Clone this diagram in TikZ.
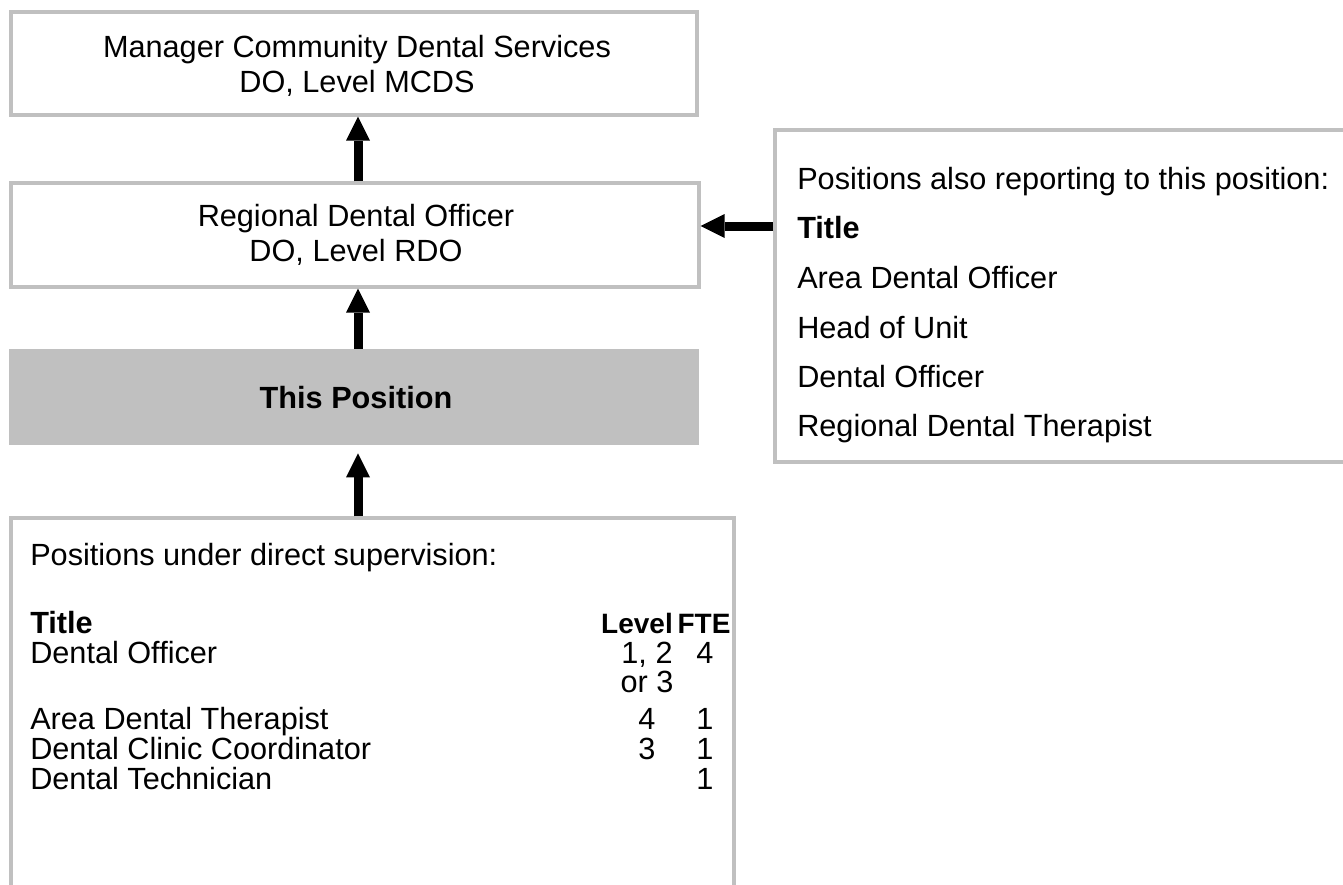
\documentclass[tikz,border=0pt]{standalone}
\usepackage{fontspec}
\setmainfont{Liberation Sans}
\usetikzlibrary{arrows.meta,fit}
\definecolor{boxgray}{RGB}{192,192,192}
\begin{document}
\begin{tikzpicture}[x=0.75pt,y=-0.75pt,
  box/.style={draw=boxgray, line width=2.6pt, inner sep=0pt},
  lbl/.style={inner sep=0pt, anchor=base, font=\fontsize{23}{27}\selectfont},
  lblb/.style={lbl, font=\fontsize{23}{27}\selectfont\bfseries},
  colhead/.style={lbl, font=\fontsize{21}{25}\selectfont\bfseries},
  lbll/.style={lbl, anchor=base west},
  lbllb/.style={lblb, anchor=base west},
  link/.style={line width=6.75pt,
    -{Triangle[length=18pt 0 0, width=18pt 0 0, line width=0pt]}}]
\path[use as bounding box] (0,0) rectangle (1343,885);
\clip (0,0) rectangle (1343,885);

% boxes
\node[box, fit={(11,12) (697,115)}] (mcds) {};
\node[box, fit={(11,183) (699,287)}] (rdo) {};
\node[fill=boxgray, inner sep=0pt, fit={(9,349) (699,445)}] (this) {};
\node[box, fit={(775,130) (1360,462)}] (also) {};
\node[box, fit={(11,518) (734,900)}] (under) {};

% box texts
\node[lbl] (mcdsA) at (357,57) {Manager Community Dental Services};
\node[lbl] (mcdsB) at (357,92) {DO, Level MCDS};
\node[lbl] (rdoA) at (356,226) {Regional Dental Officer};
\node[lbl] (rdoB) at (356,261) {DO, Level RDO};
\node[lblb] (thisT) at (356,408) {This Position};

% positions also reporting
\node[lbll] (alsoH) at (797,189) {Positions also reporting to this position:};
\node[lbllb] (alsoT) at (797,238) {Title};
\node[lbll] (alsoA) at (797,288) {Area Dental Officer};
\node[lbll] (alsoB) at (797,338) {Head of Unit};
\node[lbll] (alsoC) at (797,387) {Dental Officer};
\node[lbll] (alsoD) at (797,436) {Regional Dental Therapist};

% positions under direct supervision
\node[lbll] (undH) at (30,565) {Positions under direct supervision:};
\node[lbllb] (undT) at (30,633) {Title};
\node[colhead] (undL) at (637,633) {Level};
\node[colhead] (undF) at (704,633) {FTE};
\node[lbll] (r1) at (30,663) {Dental Officer};
\node[lbl] (r1l) at (647,663) {1, 2};
\node[lbl] (r1m) at (647,692) {or 3};
\node[lbl] (r1f) at (705,663) {4};
\node[lbll] (r2) at (30,729) {Area Dental Therapist};
\node[lbl] (r2l) at (647,729) {4};
\node[lbl] (r2f) at (705,729) {1};
\node[lbll] (r3) at (30,759) {Dental Clinic Coordinator};
\node[lbl] (r3l) at (647,759) {3};
\node[lbl] (r3f) at (705,759) {1};
\node[lbll] (r4) at (30,789) {Dental Technician};
\node[lbl] (r4f) at (705,789) {1};

% reporting lines
\coordinate (spine) at (358,0);
\coordinate (side) at (0,226);
\draw[link] (rdo.north -| spine) -- (mcds.south -| spine);
\draw[link] (this.north -| spine) -- (rdo.south -| spine);
\draw[link, shorten >=6pt] (under.north -| spine) -- (this.south -| spine);
\draw[link] (also.west |- side) -- (rdo.east |- side);
\end{tikzpicture}
\end{document}
